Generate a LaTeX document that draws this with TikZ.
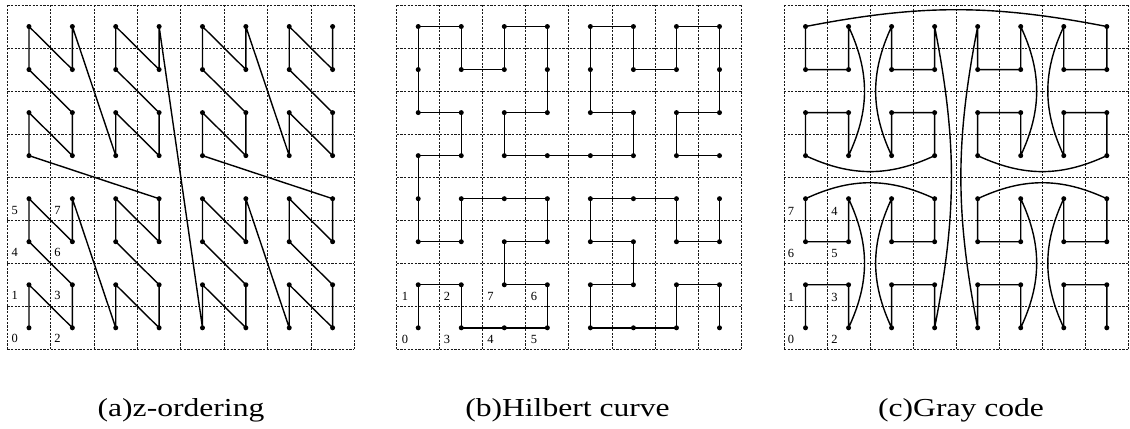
\documentclass[tikz,border=0pt]{standalone}
\usepackage{fontspec}
\setmainfont{Liberation Serif}
\begin{document}
\begin{tikzpicture}[x=1bp,y=-1bp,
  gridline/.style={line width=0.8bp, dash pattern=on 2.2bp off 1.4bp, black!90},
  curve/.style={line width=1.4bp, line join=round},
  dot/.style={circle, fill=black, inner sep=0pt, minimum size=5bp},
  lbl/.style={font=\fontsize{12.5}{14}\selectfont, inner sep=0pt},
  captext/.style={font=\fontsize{26}{30}\selectfont, inner sep=0pt, anchor=base}]
\useasboundingbox (0,0) rectangle (1130,428);
\fill[white] (0,0) rectangle (1130,428);

% grids and cell-centre coordinates
\foreach \p/\xo/\w in {a/7.3/43.375, b/396.7/43.04, c/784/43.04} {
  \foreach \k in {0,...,8} {
    \draw[gridline] ({\xo+\k*\w},5) -- ({\xo+\k*\w},349.3);
    \draw[gridline] (\xo,{5+\k*43.04}) -- ({\xo+8*\w},{5+\k*43.04});
  }
  \foreach \i in {0,...,7} {
    \foreach \j in {0,...,7} {
      \coordinate (\p-\i-\j) at ({\xo+(\i+0.5)*\w},{5+(7.5-\j)*43.04});
    }
  }
}

% (a) z-ordering
\draw[curve] (a-0-0) \foreach \n [evaluate=\n as \xi using {int(mod(floor(\n/2),2)+2*mod(floor(\n/8),2)+4*mod(floor(\n/32),2))}, evaluate=\n as \yi using {int(mod(\n,2)+2*mod(floor(\n/4),2)+4*mod(floor(\n/16),2))}] in {1,...,63} { -- (a-\xi-\yi) };

% (b) Hilbert curve
\draw[curve] (b-0-0) \foreach \i/\j in {0/1,1/1,1/0,2/0,3/0,3/1,2/1,2/2,3/2,3/3,2/3,1/3,1/2,0/2,0/3,0/4,1/4,1/5,0/5,0/6,0/7,1/7,1/6,2/6,2/7,3/7,3/6,3/5,2/5,2/4,3/4,4/4,5/4,5/5,4/5,4/6,4/7,5/7,5/6,6/6,6/7,7/7,7/6,7/5,6/5,6/4,7/4} { -- (b-\i-\j) };
\draw[curve] (b-7-3) \foreach \i/\j in {7/2,6/2,6/3,5/3,4/3,4/2,5/2,5/1,4/1,4/0,5/0,6/0,6/1,7/1,7/0} { -- (b-\i-\j) };

% (c) Gray code
\draw[curve] (c-0-0) -- (c-0-1) -- (c-1-1) -- (c-1-0) to[bend right=25] (c-1-3)
  -- (c-1-2) -- (c-0-2) -- (c-0-3) to[bend left=25] (c-3-3)
  -- (c-3-2) -- (c-2-2) -- (c-2-3) to[bend right=25] (c-2-0)
  -- (c-2-1) -- (c-3-1) -- (c-3-0) to[bend right=11] (c-3-7)
  -- (c-3-6) -- (c-2-6) -- (c-2-7) to[bend right=25] (c-2-4)
  -- (c-2-5) -- (c-3-5) -- (c-3-4) to[bend left=25] (c-0-4)
  -- (c-0-5) -- (c-1-5) -- (c-1-4) to[bend right=25] (c-1-7)
  -- (c-1-6) -- (c-0-6) -- (c-0-7) to[bend left=11] (c-7-7)
  -- (c-7-6) -- (c-6-6) -- (c-6-7) to[bend right=25] (c-6-4)
  -- (c-6-5) -- (c-7-5) -- (c-7-4) to[bend left=25] (c-4-4)
  -- (c-4-5) -- (c-5-5) -- (c-5-4) to[bend right=25] (c-5-7)
  -- (c-5-6) -- (c-4-6) -- (c-4-7) to[bend right=11] (c-4-0)
  -- (c-4-1) -- (c-5-1) -- (c-5-0) to[bend right=25] (c-5-3)
  -- (c-5-2) -- (c-4-2) -- (c-4-3) to[bend left=25] (c-7-3)
  -- (c-7-2) -- (c-6-2) -- (c-6-3) to[bend right=25] (c-6-0)
  -- (c-6-1) -- (c-7-1) -- (c-7-0);

% dots
\foreach \p in {a,b,c} {
  \foreach \i in {0,...,7} {
    \foreach \j in {0,...,7} {
      \node[dot] (\p d\i\j) at (\p-\i-\j) {};
    }
  }
}

% index labels
\foreach \t/\x/\y in {0/14.7/338,1/14.7/295,4/14.7/252,5/14.7/210,2/57.5/338,3/57.5/295,6/57.5/252,7/57.5/210}
  \node[lbl] (la\t) at (\x,\y) {\t};
\foreach \t/\x/\y in {0/405/339,1/405/296,3/447/339,2/447/296,4/490.5/339,7/490.5/296,5/534/339,6/534/296}
  \node[lbl] (lb\t) at (\x,\y) {\t};
\foreach \t/\x/\y in {0/791/339,1/791/297,2/834.5/339,3/834.5/297,6/791/253,5/834.5/253,7/791/211,4/834.5/211}
  \node[lbl] (lc\t) at (\x,\y) {\t};

% captions
\node[captext] (capa) at (181,416) {\scalebox{1.22}[1]{(a)z-ordering}};
\node[captext] (capb) at (567.5,416) {\scalebox{1.22}[1]{(b)Hilbert curve}};
\node[captext] (capc) at (961,416) {\scalebox{1.22}[1]{(c)Gray code}};
\end{tikzpicture}
\end{document}
